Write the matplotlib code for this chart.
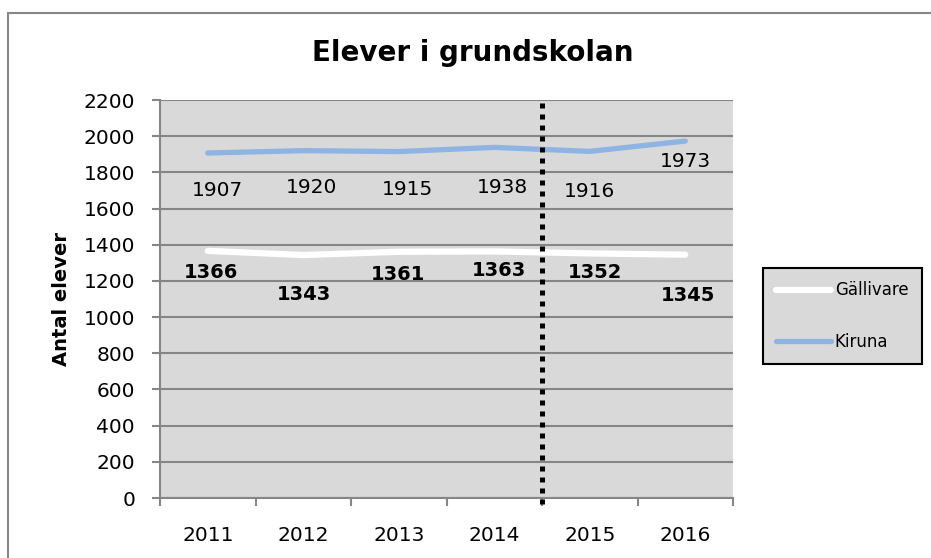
import matplotlib.pyplot as plt
from matplotlib.patches import Rectangle

years = ['2011', '2012', '2013', '2014', '2015', '2016']
gallivare = [1366, 1343, 1361, 1363, 1352, 1345]
kiruna = [1907, 1920, 1915, 1938, 1916, 1973]

# label offsets in pixels (dx, dy), as placed in the original
kiruna_offsets = [(10, -37), (8, -37), (9, -38), (8, -40), (0, -40), (0, -20)]
gallivare_offsets = [(3, -22), (1, -39), (-1, -23), (5, -19), (5, -19), (3, -41)]

blue = '#8db4e2'
grey_bg = '#d9d9d9'
grid = '#868686'

fig = plt.figure(figsize=(9.31, 5.58), dpi=100)
fig.patches.append(Rectangle((8 / 931, -0.1), 1.1, 1 - 13 / 558 + 0.1,
                             transform=fig.transFigure, fill=False,
                             edgecolor='#878787', linewidth=1.5))

ax = fig.add_axes([160 / 931, 1 - 498 / 558, 573 / 931, 398 / 558])
ax.set_facecolor(grey_bg)

x = range(len(years))
ax.plot(x, gallivare, color='white', linewidth=4.5, solid_capstyle='round', label='Gällivare', zorder=3)
ax.plot(x, kiruna, color=blue, linewidth=3.8, solid_capstyle='round', label='Kiruna', zorder=3)

for i, v in enumerate(kiruna):
    ax.annotate(str(v), (i, v), xytext=kiruna_offsets[i], textcoords='offset pixels',
                ha='center', va='center', fontsize=14.5, color='black', zorder=4)
for i, v in enumerate(gallivare):
    ax.annotate(str(v), (i, v), xytext=gallivare_offsets[i], textcoords='offset pixels',
                ha='center', va='center', fontsize=14, fontweight='bold', color='black', zorder=4)

ax.vlines(3.5, -0.015, 1, transform=ax.get_xaxis_transform(), color='black',
          linewidth=3.6, linestyle=(0, (1, 1.2)), zorder=5, clip_on=False)

ax.set_xlim(-0.5, 5.5)
ax.set_ylim(0, 2200)
ax.set_yticks(range(0, 2201, 200))
ax.set_xticks([i - 0.5 for i in range(7)], minor=False)
ax.set_xticklabels([])
ax.set_xticks(list(x), minor=True)
ax.set_xticklabels(years, minor=True)
ax.tick_params(axis='x', which='major', length=6, width=1.5, color=grid)
ax.tick_params(axis='x', which='minor', length=0, pad=20, labelsize=14.5)
ax.tick_params(axis='y', length=6, width=1.5, color=grid, labelsize=14.5, pad=12)
ax.yaxis.grid(True, color=grid, linewidth=1.5)
ax.set_axisbelow(True)
for side in ['top', 'right']:
    ax.spines[side].set_visible(False)
for side in ['left', 'bottom']:
    ax.spines[side].set_color(grid)
    ax.spines[side].set_linewidth(1.5)

ax.set_ylabel('Antal elever', fontsize=14, fontweight='bold', labelpad=9)
fig.text(473 / 931, 1 - 53 / 558, 'Elever i grundskolan', ha='center', va='center',
         fontsize=20, fontweight='bold')

leg = ax.legend(loc='center left', bbox_to_anchor=(763 / 931, 1 - 316 / 558),
                bbox_transform=fig.transFigure, frameon=True, fancybox=False,
                fontsize=12, handlelength=3.3, borderpad=0.8, labelspacing=2.0,
                handletextpad=0.2, borderaxespad=0)
leg.get_frame().set_facecolor(grey_bg)
leg.get_frame().set_edgecolor('black')
leg.get_frame().set_linewidth(1.5)
leg.get_frame().set_alpha(1)

fig.savefig('out.png', dpi=100)
